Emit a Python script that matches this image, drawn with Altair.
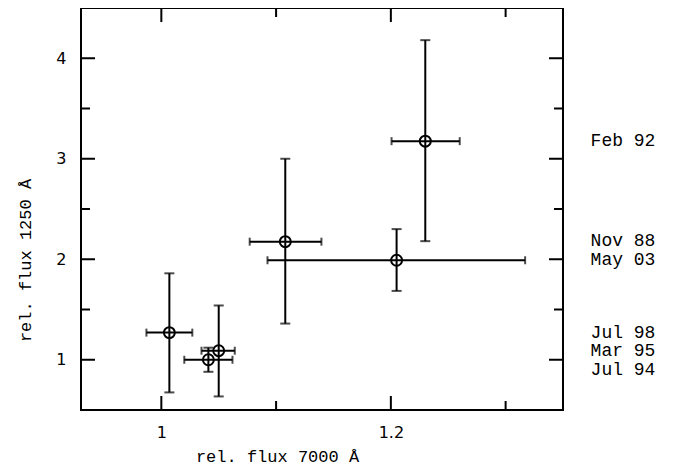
import altair as alt
import pandas as pd

# ---- data ----
labels = ["Jul 98", "Jul 94", "Mar 95", "Nov 88", "May 03", "Feb 92"]
x_val = [1.007, 1.041, 1.050, 1.108, 1.205, 1.230]
x_lo = [0.987, 1.020, 1.035, 1.077, 1.0925, 1.2006]
x_hi = [1.027, 1.062, 1.064, 1.1395, 1.317, 1.260]
y_val = [1.27, 1.00, 1.09, 2.175, 1.99, 3.175]
y_lo = [0.675, 0.88, 0.635, 1.36, 1.685, 2.18]
y_hi = [1.86, 1.12, 1.54, 3.00, 2.30, 4.18]
label_y = [1.27, 0.90, 1.09, 2.18, 1.99, 3.175]

x_major = [1.0, 1.2]
x_minor = [1.1, 1.3]
y_major = [1, 2, 3, 4]
y_minor = [1.5, 2.5, 3.5]

X_DOMAIN = [0.93, 1.35]
Y_DOMAIN = [0.5, 4.5]

W, H = 482, 402

df = pd.DataFrame({"label": labels, "x": x_val, "xlo": x_lo, "xhi": x_hi,
                   "y": y_val, "ylo": y_lo, "yhi": y_hi, "ly": label_y})

xcaps = pd.DataFrame({"x": x_lo + x_hi, "y": y_val + y_val})
ycaps = pd.DataFrame({"x": x_val + x_val, "y": y_lo + y_hi})

xs = alt.Scale(domain=X_DOMAIN, nice=False, zero=False)
ys = alt.Scale(domain=Y_DOMAIN, nice=False, zero=False)

LABEL_FONT = "DejaVu Sans"
TEXT_FONT = "Liberation Mono"

x_axis = alt.Axis(values=x_major, format="~g", tickSize=0, domain=False, grid=False,
                  labelFont=LABEL_FONT, labelFontSize=16, labelColor="black",
                  labelPadding=14, title="rel.  flux  7000  Å",
                  titleFont=TEXT_FONT, titleFontSize=17, titleFontWeight="normal",
                  titleColor="black", titleX=196, titleY=46, titleAlign="center",
                  titleBaseline="middle")
y_axis = alt.Axis(values=y_major, format="~g", tickSize=0, domain=False, grid=False,
                  labelFont=LABEL_FONT, labelFontSize=16, labelColor="black",
                  labelPadding=15, title="rel.  flux  1250  Å",
                  titleFont=TEXT_FONT, titleFontSize=17, titleFontWeight="normal",
                  titleColor="black", titleX=-56, titleY=252, titleAngle=270,
                  titleAlign="center", titleBaseline="middle")

base = alt.Chart(df)

# error bar lines
xerr = base.mark_rule(color="black", strokeWidth=2).encode(
    x=alt.X("xlo:Q", scale=xs, axis=x_axis), x2="xhi:Q",
    y=alt.Y("y:Q", scale=ys, axis=y_axis))
yerr = base.mark_rule(color="black", strokeWidth=2).encode(
    x=alt.X("x:Q", scale=xs), y=alt.Y("ylo:Q", scale=ys), y2="yhi:Q")

xcap = alt.Chart(xcaps).mark_tick(orient="vertical", color="black", thickness=2,
                                  size=8).encode(
    x=alt.X("x:Q", scale=xs), y=alt.Y("y:Q", scale=ys))
ycap = alt.Chart(ycaps).mark_tick(orient="horizontal", color="black", thickness=2,
                                  size=10).encode(
    x=alt.X("x:Q", scale=xs), y=alt.Y("y:Q", scale=ys))

points = base.mark_point(shape="circle", filled=False, color="black", size=120,
                         strokeWidth=2, opacity=1).encode(
    x=alt.X("x:Q", scale=xs), y=alt.Y("y:Q", scale=ys))

texts = base.mark_text(font=TEXT_FONT, fontSize=18, color="black", align="center",
                       baseline="middle").encode(
    x=alt.value(W + 60), y=alt.Y("ly:Q", scale=ys), text="label:N")

# inward ticks on all four sides
xmaj = pd.DataFrame({"v": x_major})
xmin = pd.DataFrame({"v": x_minor})
ymaj = pd.DataFrame({"v": y_major})
ymin = pd.DataFrame({"v": y_minor})

tick_layers = []
for d, length in ((xmaj, 14), (xmin, 9)):
    tick_layers.append(alt.Chart(d).mark_rule(color="black", strokeWidth=2).encode(
        x=alt.X("v:Q", scale=xs), y=alt.value(H), y2=alt.value(H - length)))
    tick_layers.append(alt.Chart(d).mark_rule(color="black", strokeWidth=2).encode(
        x=alt.X("v:Q", scale=xs), y=alt.value(0), y2=alt.value(length)))
for d, length in ((ymaj, 14), (ymin, 9)):
    tick_layers.append(alt.Chart(d).mark_rule(color="black", strokeWidth=2).encode(
        y=alt.Y("v:Q", scale=ys), x=alt.value(0), x2=alt.value(length)))
    tick_layers.append(alt.Chart(d).mark_rule(color="black", strokeWidth=2).encode(
        y=alt.Y("v:Q", scale=ys), x=alt.value(W), x2=alt.value(W - length)))

chart = alt.layer(xerr, yerr, xcap, ycap, points, texts, *tick_layers).properties(
    width=W, height=H,
    background="white",
    autosize=alt.AutoSizeParams(type="none"),
    padding={"left": 73, "top": 0, "right": 103, "bottom": 56},
).configure_view(stroke="black", strokeWidth=2, strokeOpacity=1)

chart.save("out.html", embed_options={"renderer": "svg", "actions": False})
